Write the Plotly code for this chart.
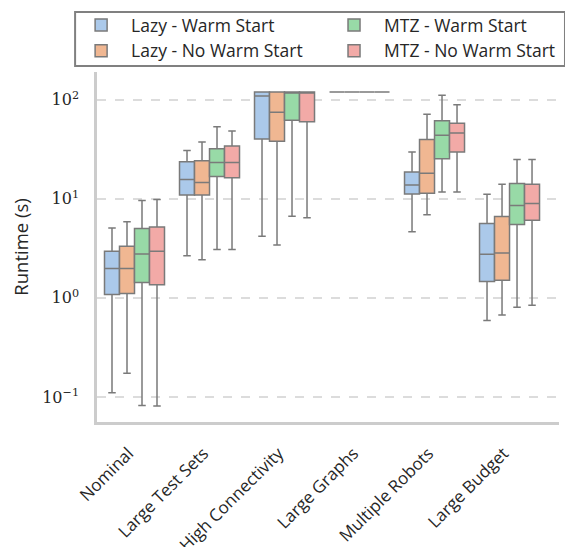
import plotly.graph_objects as go

categories = ["Nominal", "Large Test Sets", "High Connectivity", "Large Graphs",
              "Multiple Robots", "Large Budget"]

series_names = ["Lazy - Warm Start", "Lazy - No Warm Start", "MTZ - Warm Start", "MTZ - No Warm Start"]

lazy_ws_lower = [0.11, 2.66, 4.2, 120, 4.64, 0.59]
lazy_ws_q1 = [1.08, 10.9, 40.1, 120, 11.2, 1.46]
lazy_ws_median = [1.98, 15.7, 109, 120, 13.8, 2.76]
lazy_ws_q3 = [2.96, 23.6, 120, 120, 18.6, 5.64]
lazy_ws_upper = [5.06, 30.8, 120, 120, 29.6, 11.1]

lazy_nws_lower = [0.173, 2.42, 3.41, 120, 6.89, 0.673]
lazy_nws_q1 = [1.11, 10.9, 38.0, 120, 11.4, 1.51]
lazy_nws_median = [1.98, 14.6, 74.6, 120, 18.1, 2.83]
lazy_nws_q3 = [3.31, 24.2, 120, 120, 39.8, 6.64]
lazy_nws_upper = [5.86, 37.4, 120, 120, 71.2, 14.0]

mtz_ws_lower = [0.082, 3.08, 6.68, 120, 11.7, 0.806]
mtz_ws_q1 = [1.43, 16.8, 61.9, 120, 25.4, 5.51]
mtz_ws_median = [2.78, 23.2, 120, 120, 43.7, 8.58]
mtz_ws_q3 = [5.02, 32.0, 120, 120, 61.4, 14.3]
mtz_ws_upper = [9.64, 53.3, 120, 120, 110.8, 25.0]

mtz_nws_lower = [0.081, 3.08, 6.43, 120, 11.7, 0.844]
mtz_nws_q1 = [1.36, 16.3, 59.9, 120, 29.6, 6.09]
mtz_nws_median = [2.96, 23.2, 120, 120, 46.1, 8.99]
mtz_nws_q3 = [5.18, 34.1, 120, 120, 57.8, 14.0]
mtz_nws_upper = [9.86, 48.3, 120, 120, 89.0, 25.0]

tick_vals = [0.1, 1, 10, 100]
tick_text = ["10<sup>−1</sup>", "10<sup>0</sup>", "10<sup>1</sup>", "10<sup>2</sup>"]

colors = ["#abc9ea", "#f0b792", "#98daa7", "#f2aaa7"]
legend_ids = ["legend", "legend", "legend2", "legend2"]

stats = [
    (lazy_ws_lower, lazy_ws_q1, lazy_ws_median, lazy_ws_q3, lazy_ws_upper),
    (lazy_nws_lower, lazy_nws_q1, lazy_nws_median, lazy_nws_q3, lazy_nws_upper),
    (mtz_ws_lower, mtz_ws_q1, mtz_ws_median, mtz_ws_q3, mtz_ws_upper),
    (mtz_nws_lower, mtz_nws_q1, mtz_nws_median, mtz_nws_q3, mtz_nws_upper),
]

# layout geometry (pixels)
W, H = 565, 547
ML, MR, MT, MB = 97, 4, 72, 125
PW, PH = W - ML - MR, H - MT - MB
CAT_PX = 75.33  # pixels per category slot
x_range = [-0.5, -0.5 + PW / CAT_PX]


def px_x(px):
    return (px - ML) / PW


def px_y(py):
    return (H - MB - py) / PH


fig = go.Figure()
for name, col, lid, (lo, q1, med, q3, up) in zip(series_names, colors, legend_ids, stats):
    fig.add_trace(go.Box(
        name=name, x=categories, q1=q1, median=med, q3=q3,
        lowerfence=lo, upperfence=up,
        fillcolor=col, line=dict(color="#7a7a7a", width=1.5),
        whiskerwidth=0.5, boxpoints=False, legend=lid,
    ))

legend_common = dict(
    orientation="v", xanchor="left", yanchor="top",
    font=dict(size=17.5, color="#262626"), itemwidth=50,
    borderwidth=0, bgcolor="rgba(0,0,0,0)", traceorder="normal",
)

fig.update_layout(
    width=W, height=H,
    margin=dict(l=ML, r=MR, t=MT, b=MB),
    paper_bgcolor="white", plot_bgcolor="white",
    boxmode="group", boxgap=0.2, boxgroupgap=0,
    font=dict(family="Open Sans, DejaVu Sans, sans-serif", color="#262626"),
    legend=dict(x=px_x(71), y=px_y(7), **legend_common),
    legend2=dict(x=px_x(325), y=px_y(7), **legend_common),
    showlegend=True,
    shapes=[dict(
        type="rect", xref="paper", yref="paper",
        x0=px_x(75), x1=px_x(567), y0=px_y(66), y1=px_y(12),
        line=dict(color="#808080", width=2), fillcolor="rgba(0,0,0,0)",
        layer="above",
    )],
)

fig.update_xaxes(
    type="category", range=x_range, showgrid=False, zeroline=False, automargin=False,
    showline=True, linecolor="#cccccc", linewidth=2.5,
    tickangle=-45, tickfont=dict(size=17, color="#262626"),
    ticks="", ticklabelstandoff=12, ticklabelshift=-6,
)
fig.update_yaxes(
    type="log", range=[-1.253, 2.28], automargin=False,
    tickvals=tick_vals, ticktext=tick_text,
    tickfont=dict(family="DejaVu Serif, Liberation Serif, serif", size=16, color="#262626"),
    showgrid=True, gridcolor="#dcdcdc", gridwidth=1.5, griddash="dash",
    showline=True, linecolor="#cccccc", linewidth=2.5,
    zeroline=False, ticks="", ticklabelstandoff=12,
    title=dict(text="Runtime (s)", font=dict(size=18.5, color="#262626"), standoff=9),
)

fig.write_html("out.html")
